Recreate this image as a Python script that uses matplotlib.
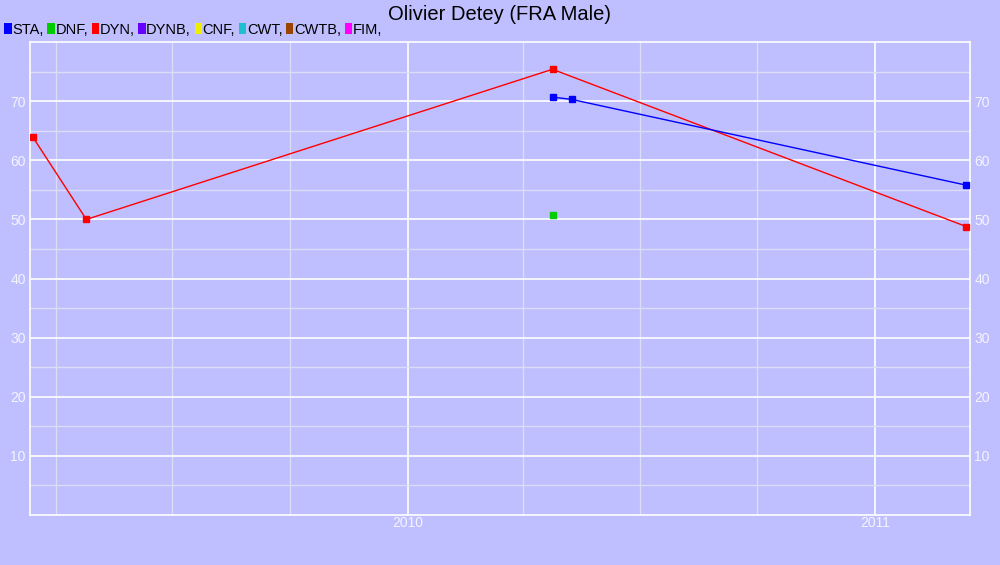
import matplotlib
matplotlib.use("Agg")
import matplotlib.pyplot as plt
import matplotlib.dates as mdates
from matplotlib.patches import Patch
import numpy as np

plt.rcParams['font.family'] = ['Liberation Sans', 'DejaVu Sans']

# data
sta_dates = ['2010-04-24', '2010-05-09', '2011-03-13']
sta_vals = [70.7, 70.3, 55.8]
dnf_dates = ['2010-04-24']
dnf_vals = [50.8]
dyn_dates = ['2009-03-14', '2009-04-25', '2010-04-24', '2011-03-13']
dyn_vals = [64.0, 50.0, 75.4, 48.8]

legend_names = ['STA', 'DNF', 'DYN', 'DYNB', 'CNF', 'CWT', 'CWTB', 'FIM']
legend_colors = ['#0000ff', '#00cc00', '#ff0000', '#6600ff', '#eeee00', '#20c0d0', '#994400', '#ff00ff']

bg = '#bfbfff'
fig = plt.figure(figsize=(10, 5.65), dpi=100, facecolor=bg)
ax = fig.add_axes([0.03, 0.0885, 0.94, 0.837])
ax.set_facecolor(bg)

def d(lst):
    return mdates.datestr2num(lst)

ax.plot(d(dyn_dates), dyn_vals, color='#ff0000', lw=1, marker='s', ms=5, zorder=3)
ax.plot(d(sta_dates), sta_vals, color='#0000ff', lw=1, marker='s', ms=5, zorder=3)
ax.plot(d(dnf_dates), dnf_vals, color='#00cc00', lw=0, marker='s', ms=5, zorder=3)

ax.set_xlim(d(['2009-03-12'])[0], d(['2011-03-16'])[0])
ax.set_ylim(0, 80)

ax.xaxis.set_major_locator(mdates.YearLocator())
ax.xaxis.set_major_formatter(mdates.DateFormatter('%Y'))
ax.xaxis.set_minor_locator(mdates.MonthLocator(bymonth=[4, 7, 10]))
ax.set_yticks(np.arange(10, 80, 10))
ax.set_yticks(np.arange(5, 80, 10), minor=True)

ax.grid(which='major', color='white', lw=1.2)
ax.grid(which='minor', color='#dcdcf4', lw=1)
ax.set_axisbelow(True)
for s in ax.spines.values():
    s.set_color('white')
    s.set_linewidth(1.2)
ax.tick_params(which='both', length=0, colors='#f4f4ff', labelsize=10, pad=1)
ax.tick_params(axis='y', right=True, labelright=True, pad=3)

fig.text(0.5, 0.974, 'Olivier Detey (FRA Male)', ha='center', va='center', fontsize=14.5, color='black')

handles = [Patch(facecolor=c, edgecolor='none') for c in legend_colors]
fig.legend(handles, [n + ',' for n in legend_names], loc='upper left',
           bbox_to_anchor=(-0.006, 0.978), ncol=8, frameon=False, fontsize=10.5,
           handlelength=0.5, handleheight=0.8, handletextpad=0.05, columnspacing=0.25,
           borderpad=0.2)

fig.savefig('out.png', dpi=100, facecolor=bg)
